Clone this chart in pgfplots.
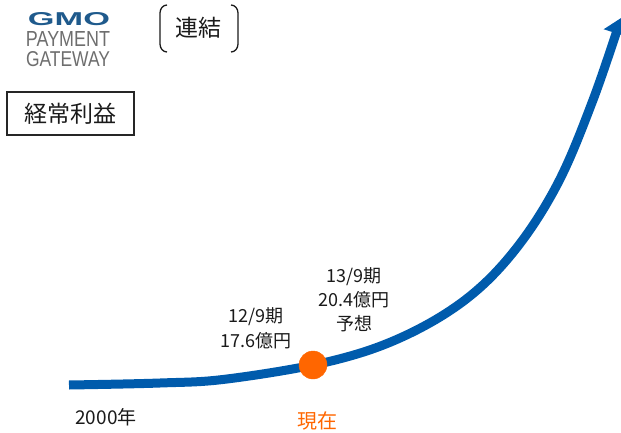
\documentclass[border=0pt]{standalone}
\usepackage{pgfplots}
\pgfplotsset{compat=1.18}
\usepackage{graphicx}
\usepackage{fontspec}
\setmainfont{Noto Sans CJK JP}
\newfontfamily\logofont{Liberation Sans}
\usetikzlibrary{arrows.meta}
\definecolor{curveblue}{HTML}{005BAC}
\definecolor{dotorange}{HTML}{FF6600}
\definecolor{gmoblue}{HTML}{1F5A8C}
\definecolor{logogrey}{HTML}{6E6E6E}
\definecolor{txt}{HTML}{1A1A1A}
\begin{document}
\begin{tikzpicture}
\begin{axis}[
  scale only axis, width=621pt, height=432pt,
  xmin=0, xmax=621, ymin=0, ymax=432,
  hide axis, clip=false]
\coordinate (bl) at (rel axis cs:0,0);
\coordinate (tr) at (rel axis cs:1,1);
% growth curve
\addplot[smooth, tension=0.6, curveblue, line width=9pt, -{Triangle[length=16pt,width=25pt]}] coordinates {
 (69,47) (160,49) (227,53) (327,70) (400,94) (465,132) (515,182) (558,249) (593,332) (621,414)
};
% current point
\addplot[only marks, mark=*, mark size=14pt, dotorange] coordinates {(313,67)};
% logo
\node[gmoblue, inner sep=0pt] at (axis cs:69,413) {\resizebox{82pt}{13pt}{\logofont\bfseries GMO}};
\node[logogrey, inner sep=0pt] at (axis cs:68,392.5) {\resizebox{84pt}{15pt}{\logofont PAYMENT}};
\node[logogrey, inner sep=0pt] at (axis cs:68,372.5) {\resizebox{84pt}{15pt}{\logofont GATEWAY}};
% brackets and 連結
\draw[line width=1.3pt, txt] (axis cs:167,427) to[out=180,in=90] (axis cs:160,419) -- (axis cs:160,388) to[out=-90,in=180] (axis cs:167,380);
\draw[line width=1.3pt, txt] (axis cs:231,427) to[out=0,in=90] (axis cs:238,419) -- (axis cs:238,388) to[out=-90,in=0] (axis cs:231,380);
\node[txt] at (axis cs:198,404.5) {\fontsize{23}{23}\selectfont 連結};
% box
\draw[line width=1.3pt, black!85] (axis cs:7,297) rectangle (axis cs:134,340);
\node[txt] at (axis cs:70.5,318.5) {\fontsize{23}{23}\selectfont 経常利益};
% labels
\node[txt, align=center, font=\fontsize{18}{25}\selectfont] at (axis cs:256,103.5) {12/9期\\17.6億円};
\node[txt, align=center, font=\fontsize{18}{24}\selectfont] at (axis cs:354,132) {13/9期\\20.4億円\\予想};
\node[dotorange, font=\fontsize{20}{20}\selectfont] at (axis cs:317,11) {現在};
\node[txt, font=\fontsize{19}{19}\selectfont] at (axis cs:106,15) {2000年};
\end{axis}
\pgfresetboundingbox
\path (bl) rectangle (tr);
\end{tikzpicture}
\end{document}
